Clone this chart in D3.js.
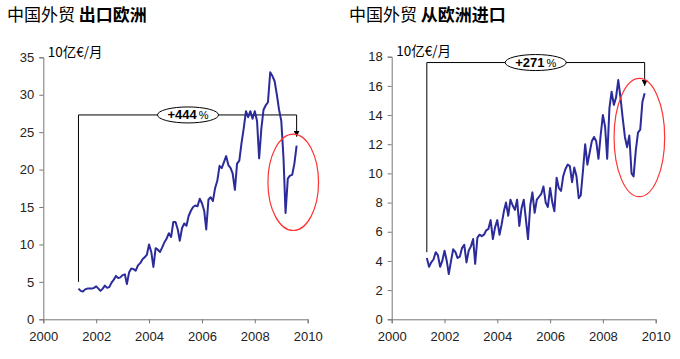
<!DOCTYPE html>
<html><head><meta charset="utf-8">
<script src="https://cdn.jsdelivr.net/npm/d3@7"></script>
<style>body{margin:0;background:#fff}svg{display:block}</style>
</head><body>
<svg id="c" width="680" height="359"></svg>
<script>
// Monthly data, May 2001 .. Aug 2009 (10亿€/月)
const startMonth = new Date(2001, 4, 1);
const endMonth = new Date(2009, 8, 1);
const exportsToEurope = [4.1,3.8,3.7,4.0,4.1,4.1,4.1,4.2,4.4,4.1,3.8,4.1,4.5,4.2,4.3,4.9,5.3,5.8,5.5,5.6,
  5.9,6.0,4.7,6.3,6.8,6.7,6.5,7.2,7.5,8.0,8.3,8.6,10.0,9.0,7.0,9.5,9.3,9.0,9.6,10.3,
  10.8,11.5,11.0,13.0,13.0,12.0,10.5,12.2,12.8,12.5,13.8,14.5,15.0,15.2,15.1,16.1,15.5,14.5,12.0,16.0,
  16.3,15.8,17.5,18.5,20.5,20.2,21.0,21.8,20.6,20.2,19.5,17.3,20.8,21.2,23.5,25.5,27.8,27.0,27.8,26.8,
  27.8,26.5,21.5,25.5,28.0,28.6,29.0,33.0,32.5,31.8,30.0,28.0,26.5,21.5,14.2,18.8,19.2,19.3,20.8,23.2];
const importsFromEurope = [4.2,3.6,3.9,4.1,4.6,4.4,3.6,4.0,4.7,4.0,3.1,4.0,4.8,4.6,4.2,4.3,4.9,5.1,3.9,4.7,
  5.0,5.5,3.8,5.6,5.8,5.7,5.8,6.1,6.2,6.8,5.5,6.3,6.8,5.8,6.5,7.4,8.0,7.1,8.2,7.8,
  7.5,8.2,6.4,7.6,8.2,6.8,5.5,7.8,8.7,7.3,8.2,8.4,8.6,9.1,8.0,7.7,9.0,8.0,7.4,9.7,
  9.0,8.8,9.8,10.3,10.6,10.5,9.4,10.4,9.8,8.3,8.5,10.2,12.0,10.6,11.4,12.2,12.5,12.2,11.0,12.6,
  14.0,13.2,11.0,14.5,15.6,14.7,15.2,16.4,15.2,13.8,12.5,11.8,12.6,10.0,9.8,11.6,12.8,13.0,14.9,15.5];
const xTickYears = [2000,2002,2004,2006,2008,2010];
const leftTicks = [0,5,10,15,20,25,30,35];
const rightTicks = [0,2,4,6,8,10,12,14,16,18];
const titles = [["中国外贸 ","出口欧洲"],["中国外贸 ","从欧洲进口"]];
const unitLabel = "10亿€/月";
const changeLabels = ["+444","+271"];
// annotation anchors (data units)
const bracketLeft = {bottom:5.0, top:27.3, tip:24.4};
const bracketRight = {bottom:4.6, top:17.6, tip:16.0};
const circleLeft = {date:new Date(2009,5,15), value:18.3};
const circleRight = {date:new Date(2009,4,20), value:12.46};

const months = d3.timeMonth.range(startMonth, endMonth);
const svg = d3.select("#c");
const lineColor = "#2b2b9b";
const font = "Arial, 'Liberation Sans', sans-serif";
const cjk = "'Noto Sans CJK SC', sans-serif";

svg.append("defs").append("marker").attr("id","arr").attr("viewBox","0 0 10 10")
  .attr("refX",10).attr("refY",5).attr("markerWidth",6).attr("markerHeight",6)
  .attr("orient","auto").append("path").attr("d","M0,0L10,5L0,10Z").attr("fill","#000");

function chart(cfg){
  const g = svg.append("g");
  const x = d3.scaleTime().domain([new Date(2000,0,1), new Date(2010,0,1)]).range([cfg.x0, cfg.x1]);
  const y = d3.scaleLinear().domain([0, cfg.ymax]).range([319.3, cfg.ytop]);
  // title
  const t = g.append("text").attr("x", cfg.titleX).attr("y", 21).attr("font-family", cjk).attr("font-size", 17).attr("fill","#000");
  t.append("tspan").text(cfg.title[0]);
  t.append("tspan").attr("font-weight","bold").text(cfg.title[1]);
  // unit
  g.append("text").attr("x", cfg.x0 + 4.5).attr("y", cfg.ytop - 0.5).attr("font-family", cjk).attr("font-size", 13.5).attr("fill","#000").text(unitLabel);
  // y axis
  const ya = g.append("g").attr("transform",`translate(${cfg.x0},0)`)
    .call(d3.axisLeft(y).tickValues(cfg.ticks).tickSize(4).tickPadding(5).tickFormat(d3.format("d")));
  const xa = g.append("g").attr("transform",`translate(0,319.3)`)
    .call(d3.axisBottom(x).tickValues(xTickYears.map(v=>new Date(v,0,1))).tickSize(4).tickPadding(8).tickFormat(d3.timeFormat("%Y")));
  [ya,xa].forEach(a=>{
    a.select(".domain").attr("stroke","#777");
    a.selectAll(".tick line").attr("stroke","#777");
    a.selectAll(".tick text").attr("font-family",font).attr("font-size",13).attr("fill","#222");
  });
  // bracket annotation
  const xs = x(months[0]), xe = x(months[months.length-1]);
  g.append("path").attr("d", `M${xs},${y(cfg.br.bottom)}V${y(cfg.br.top)}H${xe}V${y(cfg.br.tip)}`)
    .attr("fill","none").attr("stroke","#000").attr("stroke-width",1).attr("marker-end","url(#arr)");
  // data line
  g.append("path").datum(cfg.data.map((v,i)=>[months[i],v]))
    .attr("d", d3.line().x(d=>x(d[0])).y(d=>y(d[1])))
    .attr("fill","none").attr("stroke",lineColor).attr("stroke-width",2).attr("stroke-linejoin","round");
  // label ellipse
  const lx = cfg.labelX, ly = y(cfg.br.top);
  g.append("ellipse").attr("cx",lx).attr("cy",ly).attr("rx",30.5).attr("ry",8)
    .attr("fill","#fff").attr("stroke","#000").attr("stroke-width",1);
  const lt = g.append("text").attr("x",lx).attr("y",ly+4.5).attr("text-anchor","middle")
    .attr("font-family",font).attr("font-size",13).attr("fill","#000");
  lt.append("tspan").attr("font-weight","bold").text(cfg.label);
  lt.append("tspan").attr("font-size",11).attr("dx",2).text("%");
  // red circle
  g.append("ellipse").attr("cx",x(cfg.circ.date)).attr("cy",y(cfg.circ.value))
    .attr("rx",25.3).attr("ry",cfg.circRy).attr("fill","none").attr("stroke","#f33").attr("stroke-width",1.2);
}

chart({x0:43.3, x1:307.7, ytop:57.3, ymax:35, ticks:leftTicks, data:exportsToEurope, title:titles[0], titleX:7,
  br:bracketLeft, label:changeLabels[0], labelX:188, circ:circleLeft, circRy:48.2});
chart({x0:391.7, x1:655.7, ytop:56.7, ymax:18, ticks:rightTicks, data:importsFromEurope, title:titles[1], titleX:349,
  br:bracketRight, label:changeLabels[1], labelX:535.7, circ:circleRight, circRy:59.2});
</script>
</body></html>
